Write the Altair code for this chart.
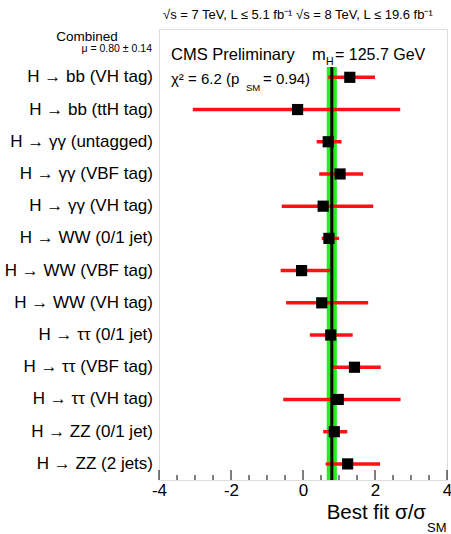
import altair as alt
import pandas as pd

labels = [
    "H \u2192 bb (VH tag)",
    "H \u2192 bb (ttH tag)",
    "H \u2192 \u03b3\u03b3 (untagged)",
    "H \u2192 \u03b3\u03b3 (VBF tag)",
    "H \u2192 \u03b3\u03b3 (VH tag)",
    "H \u2192 WW (0/1 jet)",
    "H \u2192 WW (VBF tag)",
    "H \u2192 WW (VH tag)",
    "H \u2192 \u03c4\u03c4 (0/1 jet)",
    "H \u2192 \u03c4\u03c4 (VBF tag)",
    "H \u2192 \u03c4\u03c4 (VH tag)",
    "H \u2192 ZZ (0/1 jet)",
    "H \u2192 ZZ (2 jets)",
]
best = [1.30, -0.15, 0.70, 1.03, 0.56, 0.72, -0.04, 0.52, 0.77, 1.43, 0.98, 0.87, 1.24]
lower = [0.70, -3.06, 0.38, 0.45, -0.59, 0.52, -0.62, -0.47, 0.19, 0.78, -0.55, 0.56, 0.63]
upper = [2.00, 2.70, 1.07, 1.67, 1.95, 1.00, 0.75, 1.81, 1.38, 2.16, 2.71, 1.23, 2.14]

mu_comb = [0.80]
mu_lo = [0.66]
mu_hi = [0.94]

major_ticks = [-4, -2, 0, 2, 4]
minor_ticks = [-3.5, -3, -2.5, -1.5, -1, -0.5, 0.5, 1, 1.5, 2.5, 3, 3.5]

W, H = 288, 451
FONT = "Liberation Sans"

df = pd.DataFrame({"label": labels, "best": best, "lo": lower, "hi": upper,
                   "idx": list(range(len(labels)))})
band = pd.DataFrame({"mu": mu_comb, "lo": mu_lo, "hi": mu_hi})

xs = alt.Scale(domain=[-4, 4], nice=False, zero=False)
ys = alt.Scale(domain=[-1.5, 12.5], reverse=True, nice=False, zero=False)

xaxis = alt.Axis(values=major_ticks, labelFontSize=17, labelFont=FONT, labelColor="black",
                 ticks=False, domain=False, grid=False, title=None, labelPadding=2,
                 labelFlush=False, labelExpr="replace(datum.label, '\u2212', '-')")

band_layer = alt.Chart(band).mark_rect(color="#22ee22").encode(
    x=alt.X("lo:Q", scale=xs, axis=xaxis), x2="hi:Q",
    y=alt.value(38), y2=alt.value(H))
err = alt.Chart(df).mark_rule(color="#ff1111", strokeWidth=3.5).encode(
    x=alt.X("lo:Q", scale=xs), x2="hi:Q",
    y=alt.Y("idx:Q", scale=ys, axis=None))
mu_line = alt.Chart(band).mark_rule(color="black", strokeWidth=3).encode(
    x=alt.X("mu:Q", scale=xs), y=alt.value(38), y2=alt.value(H))
pts = alt.Chart(df).mark_point(shape="square", filled=True, color="black", size=125, opacity=1).encode(
    x=alt.X("best:Q", scale=xs), y=alt.Y("idx:Q", scale=ys))
lab = alt.Chart(df).mark_text(align="right", baseline="middle", fontSize=17, font=FONT,
                              color="black").encode(
    x=alt.value(-6), y=alt.Y("idx:Q", scale=ys), text="label:N")

tk_major = alt.Chart(pd.DataFrame({"t": major_ticks})).mark_rule(color="black", strokeWidth=1).encode(
    x=alt.X("t:Q", scale=xs), y=alt.value(H), y2=alt.value(H - 10))
tk_minor = alt.Chart(pd.DataFrame({"t": minor_ticks})).mark_rule(color="black", strokeWidth=1).encode(
    x=alt.X("t:Q", scale=xs), y=alt.value(H), y2=alt.value(H - 5))


def note(text, x, y, size, align="left"):
    return alt.Chart(pd.DataFrame({"t": [text]})).mark_text(
        align=align, baseline="alphabetic", fontSize=size, font=FONT, color="black"
    ).encode(x=alt.value(x), y=alt.value(y), text="t:N")


notes = [
    note("\u221as = 7 TeV, L \u2264 5.1 fb\u207b\u00b9  \u221as = 8 TeV, L \u2264 19.6 fb\u207b\u00b9", 4, -10, 13),
    note("Combined", -72, 12, 13.5, align="center"),
    note("\u03bc = 0.80 \u00b1 0.14", -7, 23, 10.5, align="right"),
    note("CMS Preliminary", 12, 31, 16.5),
    note("m", 153, 31, 16.5),
    note("H", 167, 36, 10.5),
    note("= 125.7 GeV", 176, 31, 16),
    note("\u03c7\u00b2 = 6.2 (p", 12, 55, 15),
    note("SM", 87, 62, 9.5),
    note("= 0.94)", 104, 55, 15),
    note("Best fit \u03c3/\u03c3", 267, 490, 20.5, align="right"),
    note("SM", 268, 503, 13),
]

chart = alt.layer(band_layer, err, mu_line, pts, lab, tk_major, tk_minor, *notes).properties(
    width=W, height=H,
    autosize=alt.AutoSizeParams(type="none"),
    padding={"left": 159, "top": 29, "right": 4, "bottom": 54},
).configure_view(stroke="black", strokeWidth=1.5).configure(background="white")

chart.save("out.html", embed_options={"renderer": "svg", "actions": False})
